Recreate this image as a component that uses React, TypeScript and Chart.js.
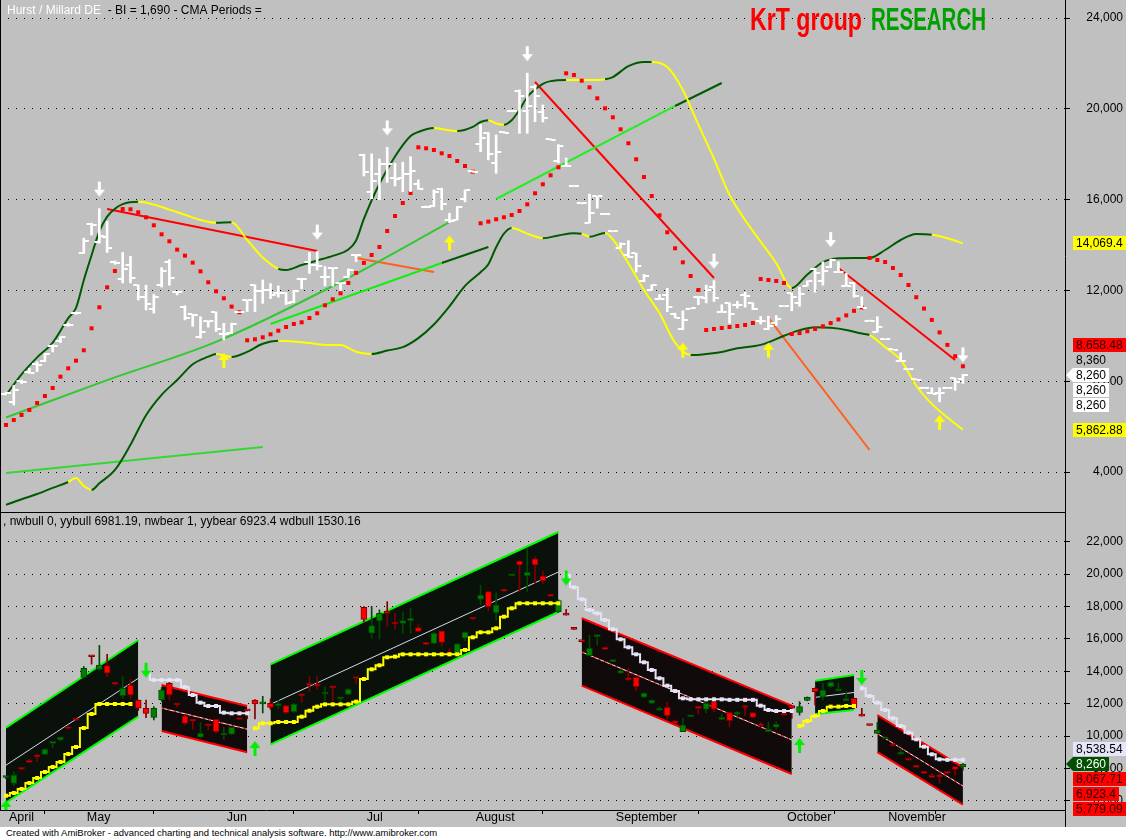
import React, { useEffect, useRef } from 'react';
import { Chart, registerables } from 'chart.js';

Chart.register(...registerables);

const FONT = '"Liberation Sans", Arial, Helvetica, sans-serif';
Chart.defaults.font.family = FONT;

// ---------- x axis (bar index) ----------
const monthNames = ['April', 'May', 'Jun', 'Jul', 'August', 'September', 'October', 'November'];
const monthStartBars = [0, 10, 28, 46, 60, 78, 100, 113];
const X_MIN = -0.771;
const X_MAX = 136.12;

// ---------- price bars ----------
const opens = [7450,7090,7990,8400,8740,8880,9550,9760,10490,11010,
 13630,14910,14120,14350,13230,12500,13140,12230,11720,11160,
 12230,13260,11930,11260,10940,9930,10650,11040,10070,10130,
 11040,11570,12230,11990,12030,11880,11880,11510,12500,13260,
 13100,12600,12990,12310,12580,13570,17950,16350,17110,17590,
 16930,16960,17130,16700,15670,15730,16480,15080,15110,16040,
 17240,18440,18920,17620,18960,19900,20800,19900,20950,19880,
 18650,17680,17480,16600,15840,14970,16140,15370,14600,13880,
 13570,13630,12400,12030,11610,11780,10940,10280,11200,11720,
 11660,12130,11040,11450,11360,11780,11450,10650,10280,10550,
 11310,11880,11460,12200,12950,12400,13050,12790,12190,12330,
 11250,10670,10170,9840,9400,8890,8530,8080,7710,7460,
 7500,7710,8120,8100];
const highs = [7520,7810,8050,8570,8860,9230,9600,9960,10560,11050,
 14300,14960,15600,15050,13300,13670,13500,12240,12230,11820,
 13000,13360,11950,11320,10950,10840,10660,11050,10550,10560,
 11060,11590,12250,12460,12300,12200,11900,12010,12530,13670,
 13710,13050,13000,12330,12950,13580,18000,18010,17790,18300,
 17600,17650,17890,16870,15720,16430,16500,15400,15700,16430,
 17280,19300,18950,18850,19000,19930,20830,21570,21050,20170,
 18680,18420,17830,16620,15860,16240,16160,15390,14620,14100,
 14190,13640,12700,12250,11820,12090,11000,11100,11220,11730,
 12230,12430,11370,11460,11520,11920,11460,10850,10860,10890,
 11320,11890,12130,12420,12980,13260,13380,13260,12750,12350,
 11720,10690,10840,9860,9410,9250,8550,8100,7730,7710,
 7710,7730,8140,8300];
const lows = [7380,6950,7900,8350,8420,8860,9290,9700,10420,10950,
 13630,14440,14080,13670,13150,12330,12330,11580,11140,11000,
 12150,12230,11800,10700,10420,9900,10380,10190,9820,10100,
 11020,11070,11060,11430,11640,11700,11380,11460,12070,12750,
 12900,12200,12190,12000,12550,13270,17040,16040,16000,16760,
 16600,16350,16350,16450,15640,15690,15550,14990,15100,15900,
 17200,18110,17750,17160,18930,19880,18920,18920,19430,19420,
 18620,17620,17460,16580,15810,14960,15620,15340,14580,13860,
 13450,12810,12380,12000,11600,11060,10790,10270,11190,11370,
 11450,11510,11030,10550,11220,11260,11150,10520,10270,10450,
 11290,11100,11300,12180,11920,12230,13000,12780,12180,11700,
 11240,10650,10160,9830,9380,8880,8510,8060,7690,7450,
 7090,7690,7600,7900];
const closes = [7470,7600,7960,8380,8720,9190,9560,9930,10470,10990,
 14190,14900,14390,13880,13210,12950,12540,11720,11410,11720,
 12850,12540,11920,10790,10930,10170,10640,10280,10080,10540,
 11030,11560,11990,12000,11780,11890,11450,11980,12490,13140,
 13090,12610,12980,12320,12890,13560,17210,16820,17580,17580,
 16920,17130,17270,16470,15660,16350,15790,15070,15690,16410,
 17230,18710,17990,18090,18950,19910,20560,20110,20560,19600,
 18640,18360,17470,16590,15830,15420,16150,15360,14610,14040,
 13470,13060,12640,12230,11620,11260,10800,10690,11210,11710,
 12030,11660,11050,10960,11370,11770,11160,10640,10420,10730,
 11300,11720,11820,12400,12750,12850,13320,12800,12200,11760,
 11240,10660,10380,9850,9390,8900,8520,8070,7700,7455,
 7490,7700,7950,8260];

// ---------- top pane indicators ----------
const sarDots = [6072,6292,6512,6732,7040,7349,7701,8200,8567,8904,
 9362,10331,11256,12137,12855,15587,15573,15441,15220,14868,
 14471,14163,13796,13532,13223,12840,12357,11961,11653,11286,
 11036,9802,9846,9934,10067,10226,10389,10521,10595,10785,
 10992,11344,11609,11873,12330,12770,13210,13560,13913,14617,
 15278,15851,16291,18304,18260,18186,18040,17921,17701,17481,
 17230,14957,15030,15133,15221,15322,15498,15792,16278,16674,
 17071,17423,21564,21489,21238,20945,20463,20022,19626,19097,
 18481,17776,16996,16159,15309,14560,13855,13238,12635,12018,
 10256,10300,10344,10388,10432,10476,10564,12503,12459,12415,
 12327,10080,10120,10200,10300,10420,10560,10720,10900,11100,
 11250,13428,13340,13252,12988,12679,12238,11700,11200,10700,
 10150,9600,9100,8658.48];

const upperBandBars = [0,2,4,6,8, 9,10,11,12,13, 14,15,17,19,21, 23,25,27,29,31, 33,35,36,38,40,
 42,44,45,46,48, 50,52,53,55,57, 58,60,61,62,63, 64,65,66,67,68, 69,70,72,74,76,
 77,78,80,82,83, 85,87,89,91,93, 95,97,99,101,103, 105,107,109,111,113, 115,117,119,121,123];
const upperBandValues = [7390,8300,9050,9700,10780, 11230,12450,13550,14600,15250, 15600,15800,15900,15780,15560,
 15330,15100,14980,15000,14220, 13450,12950,12900,13120,13320, 13520,13800,14200,15150,16700,
 17900,18800,18980,19150,19050, 19020,19200,19420,19500,19350, 19300,19500,19950,20520,20850,
 21100,21220,21270,21270,21270, 21300,21400,21880,22062,22062, 21840,20830,19300,17800,16200,
 15100,14150,13200,12100,12700, 13250,13420,13430,13430,13780, 14220,14480,14450,14300,14069.4];
const upperBandYellow = [0,0,0,0,0, 0,0,0,0,0, 0,0,1,1,1, 1,1,0,1,1, 1,0,0,0,0, 0,0,0,0,0, 0,0,0,1,1,
 0,0,0,1,1, 0,0,0,0,0, 0,0,1,1,1, 0,0,0,0,1, 1,1,1,1,1, 1,1,1,0,0, 0,0,0,0,0, 0,0,1,1,1];

const lowerBandBars = [0,2,4,6,8, 9,10,11,12,14, 16,18,20,22,24, 26,27,29,31,33, 35,37,39,41,43,
 45,47,49,51,53, 55,57,59,61,62, 63,64,65,67,69, 71,73,74,75,77, 78,80,82,84,86,
 88,90,92,94,97, 100,102,104,106,108, 110,111,113,115,117, 119,121,123];
const lowerBandValues = [2550,2800,3030,3300,3560, 3740,3380,3210,3500,4090, 5200,6500,7400,8050,8750,
 9080,9200,9070,9290,9650, 9780,9750,9680,9600,9600, 9300,9200,9350,9500,9900,
 10500,11300,12200,12800,13150, 13900,14500,14750,14500,14300, 14420,14520,14500,14360,14530,
 14250,13200,12020,11000,9700, 9150,9200,9290,9450,9600, 10000,10250,10380,10350,10260,
 10100,10036,9500,8935,7800, 7000,6400,5862.88];
const lowerBandYellow = [0,0,0,0,1, 1,1,0,0,0, 0,0,0,0,0, 0,1,0,0,0, 1,1,1,1,1, 1,0,0,0,0,
 0,0,0,0,0, 0,0,1,1,0, 0,0,1,0,1, 1,1,1,1,1, 0,0,0,0,0, 0,0,0,0,0, 0,1,1,1,1, 1,1,1];

const greenLineABars = [0, 13, 27, 43, 57];
const greenLineAValues = [6400, 8050, 9730, 12370, 15010];
const greenLineBBars = [34, 56];
const greenLineBValues = [10521, 13208];
const greenLineBExtBars = [56, 62];
const greenLineBExtValues = [13208, 13913];
const greenLineCBars = [63, 86];
const greenLineCValues = [16027, 20124];
const greenLineCExtBars = [86, 92];
const greenLineCExtValues = [20124, 21137];
const greenLineDBars = [0, 33];
const greenLineDValues = [3957, 5102];
const redLine1Bars = [13, 40];
const redLine1Values = [15587, 13736];
const redLine2Bars = [68, 91];
const redLine2Values = [21180, 12547];
const redLine3Bars = [107, 122];
const redLine3Values = [12988, 8935];
const orangeLine1Bars = [45, 55];
const orangeLine1Values = [13428, 12811];
const orangeLine2Bars = [98, 111];
const orangeLine2Values = [10785, 4970];

const whiteArrowBars = [12, 40, 49, 67, 91, 106, 123];
const yellowArrowBars = [28, 57, 87, 98, 120];

const topTickValues = [4000, 8000, 12000, 16000, 20000, 24000];
const TOP_MIN = 2238;
const TOP_MAX = 24793;
const topExtraLabelValues = [8360, 8260, 8260];

// ---------- bottom pane ----------
const channelStartBars = [0, 20, 34, 74, 104, 112];
const channelEndBars = [17, 31, 71, 101, 109, 123];
const channelTopStart = [10522, 13157, 14434, 17273, 13422, 11300];
const channelTopEnd = [15934, 11861, 22597, 11880, 13774, 8067.71];
const channelMidStart = [8208, 11737, 11966, 15193, 12395, 10156];
const channelMidEnd = [13568, 10432, 20129, 9772, 12694, 6923.4];
const channelBotStart = [5894, 10318, 9497, 13114, 11367, 9011];
const channelBotEnd = [11203, 9003, 17660, 7665, 11614, 5779.09];
const channelBull = [1, 0, 1, 0, 1, 0];

const bullStopStarts = [0, 32, 102];
const bullStopSeg0 = [6326,6492,6739,7109,7418,7788,8097,8405,8899,9331,10503,11367,11985,11985,11985,11985,11985];
const bullStopSeg1 = [10483,10795,10795,10874,10874,10874,11200,11571,11818,11962,11962,11962,11962,12127,13527,14125,
 14372,14866,14907,15050,15050,15050,15050,15050,15050,15050,15050,15318,16100,16409,16409,16656,17372,17890,
 18199,18199,18199,18199,18199,18199];
const bullStopSeg2 = [10627,10936,11244,11553,11820,11820,11861,11861];
const bearStopStarts = [18, 72, 110];
const bearStopSeg0 = [13890,13470,13470,13470,13470,13020,12540,12065,11860,11860,11450,11410,11410,11410];
const bearStopSeg1 = [19945,19186,18446,17785,17581,17168,16594,15977,15483,15051,14558,14083,13571,13114,12787,
 12336,12274,12274,12274,12274,12274,12240,12240,12240,12240,11880,11614,11553,11553,11553];
const bearStopSeg2 = [12953,12478,12065,11614,11102,10627,10213,9806,9349,8880,8572,8538.54,8538.54,8538.54];

const greenDownArrowBars = [18, 72, 110];
const greenDownArrowValues = [14073, 19760, 13620];
const greenUpArrowBars = [0, 32, 102];
const greenUpArrowValues = [5600, 9238, 9423];

const bottomTickValues = [6000, 8000, 10000, 12000, 14000, 16000, 18000, 20000, 22000];
const BOT_MIN = 5443;
const BOT_MAX = 23771;

// ---------- helpers ----------
const fmt = (v: number) => v.toLocaleString('en-US', { maximumFractionDigits: 2 });
const pts = (bars: number[], values: number[]) => bars.map((b, k) => ({ x: b, y: values[k] }));
const seq = (start: number, values: number[]) => values.map((v, k) => ({ x: start + k, y: v }));

function makeImg(w: number, h: number, draw: (g: CanvasRenderingContext2D) => void) {
  const c = document.createElement('canvas');
  c.width = w;
  c.height = h;
  draw(c.getContext('2d') as CanvasRenderingContext2D);
  return c;
}

function arrowImg(color: string, dir: 'up' | 'down', gap: number) {
  const W = 11, L = 15;
  const H = 2 * (Math.abs(gap) + L + 1);
  const cy = H / 2;
  return makeImg(W, H, (g) => {
    g.fillStyle = color;
    if (dir === 'down') {
      const tip = cy - gap, top = tip - L;
      g.fillRect(4, top, 3, 8);
      g.beginPath(); g.moveTo(0, top + 8); g.lineTo(11, top + 8); g.lineTo(5.5, tip); g.closePath(); g.fill();
    } else {
      const tip = cy + gap, bot = tip + L;
      g.fillRect(4, bot - 8, 3, 8);
      g.beginPath(); g.moveTo(0, tip + 7); g.lineTo(11, tip + 7); g.lineTo(5.5, tip); g.closePath(); g.fill();
    }
  });
}

type AxisLabel = { value: number; bg: string | null; fg: string; pointer?: boolean; anchor?: boolean };

function drawAxisLabels(chart: any, items: AxisLabel[]) {
  const ctx = chart.ctx as CanvasRenderingContext2D;
  const ys = chart.scales.y;
  const boxH = 14, step = 15;
  const list = items.map((it, k) => ({ ...it, k, py: ys.getPixelForValue(it.value) }));
  const sorted = [...list].sort((a, b) => (a.py - b.py) || (a.k - b.k));
  const ai = Math.max(0, sorted.findIndex((it) => it.anchor));
  for (let k = ai + 1; k < sorted.length; k++) sorted[k].py = Math.max(sorted[k].py, sorted[k - 1].py + step);
  for (let k = ai - 1; k >= 0; k--) sorted[k].py = Math.min(sorted[k].py, sorted[k + 1].py - step);
  const right = chart.chartArea.right;
  const left = right + 8;
  ctx.save();
  ctx.font = `12px ${FONT}`;
  ctx.textBaseline = 'middle';
  ctx.textAlign = 'left';
  for (const it of sorted) {
    const text = fmt(it.value);
    const w = ctx.measureText(text).width;
    const top = Math.round(it.py - boxH / 2);
    if (it.bg) {
      ctx.fillStyle = it.bg;
      ctx.fillRect(left, top, Math.round(w + 6), boxH);
      if (it.pointer) {
        ctx.beginPath();
        ctx.moveTo(left, top);
        ctx.lineTo(right + 1, top + boxH / 2);
        ctx.lineTo(left, top + boxH);
        ctx.closePath();
        ctx.fill();
      }
    }
    ctx.fillStyle = it.fg;
    ctx.fillText(text, left + 3, top + boxH / 2 + 0.5);
  }
  ctx.restore();
}

const lineDs = (data: any[], color: string, width: number, extra: any = {}) => ({
  type: 'line', data, borderColor: color, borderWidth: width, pointRadius: 0, fill: false, tension: 0, ...extra,
});

function xScale(display: boolean) {
  return {
    type: 'linear', min: X_MIN, max: X_MAX, offset: false, display,
    afterBuildTicks: (s: any) => { s.ticks = monthStartBars.map((v) => ({ value: v })); },
    afterFit: (s: any) => { s.height = display ? 17 : 0; s.paddingLeft = 0; s.paddingRight = 0; },
    grid: { drawOnChartArea: false, drawTicks: true, tickLength: 4, tickColor: '#000', color: '#000' },
    border: { display: true, color: '#000', width: 1 },
    ticks: {
      autoSkip: false, maxRotation: 0, minRotation: 0, align: 'start', labelOffset: 3, padding: -4,
      color: '#000', font: { size: 12.5, family: FONT },
      callback: (v: number) => { const k = monthStartBars.indexOf(v); return k >= 0 ? monthNames[k] : ''; },
    },
  };
}

function yScale(min: number, max: number, tickValues: number[]) {
  return {
    type: 'linear', position: 'right', min, max,
    afterBuildTicks: (s: any) => { s.ticks = tickValues.map((v) => ({ value: v })); },
    afterFit: (s: any) => { s.width = 58; s.paddingTop = 0; s.paddingBottom = 0; },
    grid: { color: '#000', lineWidth: 1, drawTicks: true, tickLength: 5, tickColor: '#000', tickWidth: 1 },
    border: { display: true, color: '#000', width: 1, dash: [1, 7] },
    ticks: { crossAlign: 'far', padding: 8, color: '#000', font: { size: 12, family: FONT },
      callback: (v: number) => v.toLocaleString('en-US') },
  };
}

const baseOptions = {
  responsive: false, animation: false, events: [],
  plugins: { legend: { display: false }, tooltip: { enabled: false } },
};

function buildTop(canvas: HTMLCanvasElement) {
  const bars = opens.map((_, i) => i);
  const openTick = makeImg(12, 2, (g) => { g.fillStyle = '#FFFFFF'; g.fillRect(1, 0, 4, 2); });
  const closeTick = makeImg(12, 2, (g) => { g.fillStyle = '#FFFFFF'; g.fillRect(7, 0, 4, 2); });
  const whiteArrow = arrowImg('#FFFFFF', 'down', 12);
  const yellowArrow = arrowImg('#FFFF00', 'up', 13);
  const dark = '#005A00';
  const datasets: any[] = [
    { type: 'scatter', data: whiteArrowBars.map((b) => ({ x: b, y: highs[b] })), pointStyle: whiteArrow, pointRadius: 6, order: 0 },
    { type: 'scatter', data: yellowArrowBars.map((b) => ({ x: b, y: lows[b] })), pointStyle: yellowArrow, pointRadius: 6, order: 0 },
    { type: 'bar', data: bars.map((i) => ({ x: i, y: [lows[i], highs[i]] })), backgroundColor: '#FFFFFF', borderWidth: 0, barThickness: 2, grouped: false, order: 1 },
    { type: 'scatter', data: bars.map((i) => ({ x: i, y: opens[i] })), pointStyle: openTick, pointRadius: 3, order: 1 },
    { type: 'scatter', data: bars.map((i) => ({ x: i, y: closes[i] })), pointStyle: closeTick, pointRadius: 3, order: 1 },
    { type: 'scatter', data: bars.map((i) => ({ x: i, y: sarDots[i] })), pointStyle: 'rect', pointRadius: 2.83, backgroundColor: '#FF0000', borderWidth: 0, order: 2 },
    lineDs(pts(upperBandBars, upperBandValues), dark, 2, { cubicInterpolationMode: 'monotone', order: 3,
      segment: { borderColor: (c: any) => (upperBandYellow[c.p0DataIndex] ? '#FFFF00' : dark) } }),
    lineDs(pts(lowerBandBars, lowerBandValues), dark, 2, { cubicInterpolationMode: 'monotone', order: 3,
      segment: { borderColor: (c: any) => (lowerBandYellow[c.p0DataIndex] ? '#FFFF00' : dark) } }),
    lineDs(pts(greenLineABars, greenLineAValues), '#33C833', 2, { cubicInterpolationMode: 'monotone', order: 4 }),
    lineDs(pts(greenLineBBars, greenLineBValues), '#11EE11', 2, { order: 4 }),
    lineDs(pts(greenLineBExtBars, greenLineBExtValues), dark, 2, { order: 4 }),
    lineDs(pts(greenLineCBars, greenLineCValues), '#22EE22', 2, { order: 4 }),
    lineDs(pts(greenLineCExtBars, greenLineCExtValues), dark, 2, { order: 4 }),
    lineDs(pts(greenLineDBars, greenLineDValues), '#33D833', 2, { order: 4 }),
    lineDs(pts(redLine1Bars, redLine1Values), '#FF0000', 2, { order: 4 }),
    lineDs(pts(redLine2Bars, redLine2Values), '#FF0000', 2, { order: 4 }),
    lineDs(pts(redLine3Bars, redLine3Values), '#FF0000', 2, { order: 4 }),
    lineDs(pts(orangeLine1Bars, orangeLine1Values), '#FF6020', 2, { order: 4 }),
    lineDs(pts(orangeLine2Bars, orangeLine2Values), '#FF6020', 2, { order: 4 }),
  ];
  const last = opens.length - 1;
  const labels: AxisLabel[] = [
    { value: upperBandValues[upperBandValues.length - 1], bg: '#FFFF00', fg: '#000000' },
    { value: sarDots[last], bg: '#FF0000', fg: '#300000' },
    { value: topExtraLabelValues[0], bg: null, fg: '#000000' },
    { value: closes[last], bg: '#FFFFFF', fg: '#000000', pointer: true, anchor: true },
    { value: topExtraLabelValues[1], bg: '#FFFFFF', fg: '#000000' },
    { value: topExtraLabelValues[2], bg: '#FFFFFF', fg: '#000000' },
    { value: lowerBandValues[lowerBandValues.length - 1], bg: '#FFFF00', fg: '#000000' },
  ];
  const decor = {
    id: 'topDecor',
    afterDraw(chart: any) {
      const ctx = chart.ctx as CanvasRenderingContext2D;
      ctx.save();
      ctx.fillStyle = '#000';
      ctx.fillRect(0, 0, 1, chart.height);
      ctx.font = `12px ${FONT}`;
      ctx.textBaseline = 'alphabetic';
      ctx.fillStyle = '#FFFFFF';
      const t1 = 'Hurst / Millard DE';
      ctx.fillText(t1, 7, 14);
      const w1 = ctx.measureText(t1).width;
      ctx.fillStyle = '#000000';
      ctx.fillText('  - BI = 1,690 - CMA Periods =', 7 + w1, 14);
      ctx.font = `bold 31px "Liberation Sans Narrow", "Liberation Sans", Arial, sans-serif`;
      ctx.fillStyle = '#FF0000';
      ctx.fillText('KrT group', 750, 30, 112);
      ctx.fillStyle = '#00A000';
      ctx.fillText('RESEARCH', 871, 30, 115);
      ctx.restore();
      drawAxisLabels(chart, labels);
    },
  };
  return new Chart(canvas, {
    type: 'scatter',
    data: { datasets },
    options: {
      ...baseOptions,
      layout: { autoPadding: false, padding: { left: 0, right: 3, top: 0, bottom: 0 } },
      scales: { x: xScale(false), y: yScale(TOP_MIN, TOP_MAX, topTickValues) },
    } as any,
    plugins: [decor],
  } as any);
}

function buildBottom(canvas: HTMLCanvasElement) {
  const bars = opens.map((_, i) => i);
  const up = (i: number) => closes[i] >= opens[i];
  const greenDown = arrowImg('#00EE00', 'down', -7.5);
  const greenUp = arrowImg('#00EE00', 'up', -7.5);
  const datasets: any[] = [];
  channelStartBars.forEach((s, k) => {
    const e = channelEndBars[k];
    const bull = channelBull[k] === 1;
    const edge = bull ? '#00FF00' : '#FF0000';
    datasets.push(lineDs([{ x: s, y: channelBotStart[k] }, { x: e, y: channelBotEnd[k] }], edge, 2, { order: 20 }));
    datasets.push(lineDs([{ x: s, y: channelTopStart[k] }, { x: e, y: channelTopEnd[k] }], edge, 2,
      { order: 20, fill: '-1', backgroundColor: bull ? '#0A100A' : '#100A0A' }));
    const mid = [{ x: s, y: channelMidStart[k] }, { x: e, y: channelMidEnd[k] }];
    datasets.push(lineDs(mid, bull ? '#D8D8EE' : '#FFFFFF', 1, { order: 19 }));
    if (!bull) datasets.push(lineDs(mid, '#FF0000', 1, { order: 18, borderDash: [3, 3] }));
  });
  datasets.push({ type: 'bar', data: bars.map((i) => ({ x: i, y: [lows[i], highs[i]] })),
    backgroundColor: bars.map((i) => (up(i) ? '#004800' : '#800000')), borderWidth: 0, barThickness: 1, grouped: false, order: 8 });
  datasets.push({ type: 'bar', data: bars.map((i) => ({ x: i, y: [opens[i], closes[i]] })),
    backgroundColor: bars.map((i) => (up(i) ? '#008000' : '#FF0000')),
    borderColor: bars.map((i) => (up(i) ? '#004800' : '#800000')),
    borderWidth: 1, borderSkipped: false, barThickness: 6, minBarLength: 2, grouped: false, order: 7 });
  const bullSegs = [bullStopSeg0, bullStopSeg1, bullStopSeg2];
  bullSegs.forEach((seg, k) => datasets.push(lineDs(seq(bullStopStarts[k], seg), '#FFFF00', 2, {
    stepped: 'middle', pointStyle: 'rect', pointRadius: 2.83, pointBackgroundColor: '#FFFF00', pointBorderWidth: 0, order: 5 })));
  const bearSegs = [bearStopSeg0, bearStopSeg1, bearStopSeg2];
  bearSegs.forEach((seg, k) => datasets.push(lineDs(seq(bearStopStarts[k], seg), '#E4E4F6', 2, {
    stepped: 'middle', pointStyle: 'rect', pointRadius: 2.83, pointBackgroundColor: '#E4E4F6', pointBorderWidth: 0, order: 5 })));
  datasets.push({ type: 'scatter', data: pts(greenDownArrowBars, greenDownArrowValues), pointStyle: greenDown, pointRadius: 6, order: 0 });
  datasets.push({ type: 'scatter', data: pts(greenUpArrowBars, greenUpArrowValues), pointStyle: greenUp, pointRadius: 6, order: 0 });

  const last = opens.length - 1;
  const lc = channelEndBars.length - 1;
  const labels: AxisLabel[] = [
    { value: bearStopSeg2[bearStopSeg2.length - 1], bg: '#E6E6FA', fg: '#000000' },
    { value: closes[last], bg: '#005000', fg: '#FFFFFF', pointer: true, anchor: true },
    { value: channelTopEnd[lc], bg: '#FF0000', fg: '#300000' },
    { value: channelMidEnd[lc], bg: '#FF0000', fg: '#300000' },
    { value: channelBotEnd[lc], bg: '#FF0000', fg: '#300000' },
  ];
  const decor = {
    id: 'botDecor',
    afterDraw(chart: any) {
      const ctx = chart.ctx as CanvasRenderingContext2D;
      const ca = chart.chartArea;
      ctx.save();
      ctx.fillStyle = '#000';
      ctx.fillRect(0, 0, ca.right, 1);
      ctx.fillRect(0, 0, 1, ca.bottom);
      ctx.fillRect(ca.right, 0, 1, chart.height);
      ctx.font = `12px ${FONT}`;
      ctx.textBaseline = 'alphabetic';
      ctx.fillText(', nwbull 0, yybull 6981.19, nwbear 1, yybear 6923.4 wdbull 1530.16', 3, 13);
      ctx.restore();
      drawAxisLabels(chart, labels);
    },
  };
  return new Chart(canvas, {
    type: 'scatter',
    data: { datasets },
    options: {
      ...baseOptions,
      layout: { autoPadding: false, padding: { left: 0, right: 3, top: 1, bottom: 0 } },
      scales: { x: xScale(true), y: yScale(BOT_MIN, BOT_MAX, bottomTickValues) },
    } as any,
    plugins: [decor],
  } as any);
}

export default function App() {
  const topRef = useRef<HTMLCanvasElement>(null);
  const botRef = useRef<HTMLCanvasElement>(null);
  useEffect(() => {
    const charts = [buildTop(topRef.current as HTMLCanvasElement), buildBottom(botRef.current as HTMLCanvasElement)];
    return () => charts.forEach((c) => c.destroy());
  }, []);
  return (
    <div style={{ position: 'absolute', left: 0, top: 0, width: 1126, height: 839, background: '#FFFFFF', overflow: 'hidden' }}>
      <canvas ref={topRef} width={1126} height={512}
        style={{ position: 'absolute', left: 0, top: 0, display: 'block', background: '#C0C0C0' }} />
      <canvas ref={botRef} width={1126} height={315}
        style={{ position: 'absolute', left: 0, top: 512, display: 'block', background: '#C0C0C0' }} />
      <div style={{ position: 'absolute', left: 6, top: 827, font: `9.45px ${FONT}`, color: '#000', whiteSpace: 'nowrap', lineHeight: '11px' }}>
        Created with AmiBroker - advanced charting and technical analysis software. http://www.amibroker.com
      </div>
    </div>
  );
}
